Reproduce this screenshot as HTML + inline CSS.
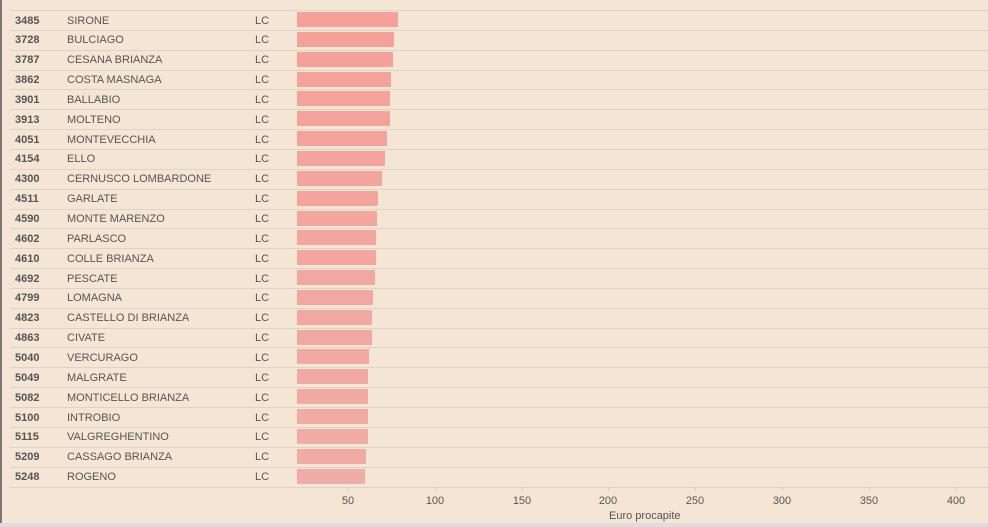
<!DOCTYPE html>
<html><head><meta charset="utf-8"><style>
body{margin:0;width:988px;height:527px;background:#f5e5d5;position:relative;overflow:hidden;font-family:"Liberation Sans",Arial,sans-serif;font-size:11px;color:#555}
.lb{position:absolute;left:0;top:0;width:2px;height:523px;background:#777}
.bot{position:absolute;left:0;top:523px;width:988px;height:4px;background:#ddd}
.ln{position:absolute;left:10px;width:978px;height:1px;background:#d9d3cc}
.t{position:absolute;line-height:14px;white-space:nowrap}
.b{position:absolute;left:297px;height:15px}
.tk{position:absolute;top:487px;width:1px;height:4px;background:#ccc}
.ax{position:absolute;top:494px;width:40px;text-align:center;margin-left:-20px}
</style></head><body>
<div class="lb"></div><div class="bot"></div>
<div id="c"></div>
<script>
var d=[["3485","SIRONE",398],["3728","BULCIAGO",394],["3787","CESANA BRIANZA",393],["3862","COSTA MASNAGA",391],["3901","BALLABIO",390],["3913","MOLTENO",390],["4051","MONTEVECCHIA",387],["4154","ELLO",385],["4300","CERNUSCO LOMBARDONE",382],["4511","GARLATE",378],["4590","MONTE MARENZO",377],["4602","PARLASCO",376],["4610","COLLE BRIANZA",376],["4692","PESCATE",375],["4799","LOMAGNA",373],["4823","CASTELLO DI BRIANZA",372],["4863","CIVATE",372],["5040","VERCURAGO",369],["5049","MALGRATE",368],["5082","MONTICELLO BRIANZA",368],["5100","INTROBIO",368],["5115","VALGREGHENTINO",368],["5209","CASSAGO BRIANZA",366],["5248","ROGENO",365]];
var h="",p=19.85,y0=10;
for(var i=0;i<d.length;i++){var y=y0+i*p;
h+='<div class="ln" style="top:'+Math.round(y)+'px"></div>';
var r=Math.round(245-i*0.2),g=Math.round(160+i*0.5),bb=Math.round(152+i*0.6);
h+='<div class="b" style="top:'+Math.round(y+2)+'px;width:'+(d[i][2]-297)+'px;background:rgb('+r+','+g+','+bb+')"></div>';
var ty=Math.round(y+3.5);
h+='<div class="t" style="left:15px;top:'+ty+'px;font-weight:bold">'+d[i][0]+'</div>';
h+='<div class="t" style="left:67px;top:'+ty+'px">'+d[i][1]+'</div>';
h+='<div class="t" style="left:255px;top:'+ty+'px">LC</div>';}
h+='<div class="ln" style="top:487px"></div>';
for(var v=50;v<=400;v+=50){var x=Math.round(261+v*1.737);
h+='<div class="tk" style="left:'+x+'px"></div><div class="ax" style="left:'+x+'px;top:495px">'+v+'</div>';}
h+='<div class="t" style="left:609px;top:509px">Euro procapite</div>';
document.getElementById("c").innerHTML=h;
</script>
</body></html>
